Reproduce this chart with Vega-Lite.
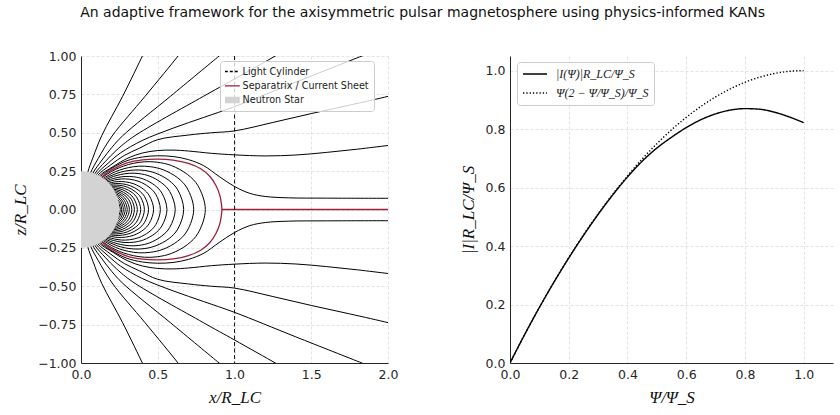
{
"$schema": "https://vega.github.io/schema/vega-lite/v6.json",
"background": "white",
"padding": {"left": 11, "right": 4, "top": 6, "bottom": 2},
"title": {"text": "An adaptive framework for the axisymmetric pulsar magnetosphere using physics-informed KANs", "font": "DejaVu Sans", "fontSize": 14, "fontWeight": "normal", "color": "#111111", "anchor": "middle", "offset": 30},
"config": {
  "view": {"stroke": null},
  "axis": {"labelFont": "DejaVu Sans", "labelFontSize": 12.5, "labelColor": "#262626", "titleFont": "Liberation Serif", "titleFontStyle": "italic", "titleFontWeight": "normal", "titleFontSize": 17, "titleColor": "#111111", "domainColor": "#262626", "domainWidth": 1, "tickColor": "#262626", "tickWidth": 0.8, "tickSize": 0, "gridColor": "#dcdcdc", "gridDash": [3, 2], "gridWidth": 0.8, "labelOverlap": false, "labelFlush": false, "labelPadding": 5}
},
"datasets": {
"fl": [
{"l":"c1","x":0.135,"z":0.205},{"l":"c1","x":0.175,"z":0.233},{"l":"c1","x":0.222,"z":0.26},{"l":"c1","x":0.278,"z":0.283},{"l":"c1","x":0.342,"z":0.301},{"l":"c1","x":0.415,"z":0.311},{"l":"c1","x":0.497,"z":0.308},{"l":"c1","x":0.59,"z":0.286},{"l":"c1","x":0.694,"z":0.228},{"l":"c1","x":0.762,"z":0.155},{"l":"c1","x":0.81,"z":0},{"l":"c1","x":0.762,"z":-0.155},{"l":"c1","x":0.694,"z":-0.228},{"l":"c1","x":0.59,"z":-0.286},{"l":"c1","x":0.497,"z":-0.308},{"l":"c1","x":0.415,"z":-0.311},{"l":"c1","x":0.342,"z":-0.301},{"l":"c1","x":0.278,"z":-0.283},{"l":"c1","x":0.222,"z":-0.26},{"l":"c1","x":0.175,"z":-0.233},{"l":"c1","x":0.135,"z":-0.205},
{"l":"c2","x":0.122,"z":0.185},{"l":"c2","x":0.159,"z":0.211},{"l":"c2","x":0.202,"z":0.236},{"l":"c2","x":0.252,"z":0.257},{"l":"c2","x":0.31,"z":0.273},{"l":"c2","x":0.376,"z":0.282},{"l":"c2","x":0.451,"z":0.279},{"l":"c2","x":0.535,"z":0.259},{"l":"c2","x":0.629,"z":0.207},{"l":"c2","x":0.691,"z":0.14},{"l":"c2","x":0.734,"z":0},{"l":"c2","x":0.691,"z":-0.14},{"l":"c2","x":0.629,"z":-0.207},{"l":"c2","x":0.535,"z":-0.259},{"l":"c2","x":0.451,"z":-0.279},{"l":"c2","x":0.376,"z":-0.282},{"l":"c2","x":0.31,"z":-0.273},{"l":"c2","x":0.252,"z":-0.257},{"l":"c2","x":0.202,"z":-0.236},{"l":"c2","x":0.159,"z":-0.211},{"l":"c2","x":0.122,"z":-0.185},
{"l":"c3","x":0.145,"z":0.193},{"l":"c3","x":0.184,"z":0.215},{"l":"c3","x":0.229,"z":0.234},{"l":"c3","x":0.282,"z":0.249},{"l":"c3","x":0.343,"z":0.257},{"l":"c3","x":0.411,"z":0.255},{"l":"c3","x":0.488,"z":0.236},{"l":"c3","x":0.574,"z":0.189},{"l":"c3","x":0.63,"z":0.128},{"l":"c3","x":0.669,"z":0},{"l":"c3","x":0.63,"z":-0.128},{"l":"c3","x":0.574,"z":-0.189},{"l":"c3","x":0.488,"z":-0.236},{"l":"c3","x":0.411,"z":-0.255},{"l":"c3","x":0.343,"z":-0.257},{"l":"c3","x":0.282,"z":-0.249},{"l":"c3","x":0.229,"z":-0.234},{"l":"c3","x":0.184,"z":-0.215},{"l":"c3","x":0.145,"z":-0.193},
{"l":"c4","x":0.133,"z":0.177},{"l":"c4","x":0.169,"z":0.197},{"l":"c4","x":0.211,"z":0.215},{"l":"c4","x":0.259,"z":0.228},{"l":"c4","x":0.314,"z":0.236},{"l":"c4","x":0.377,"z":0.234},{"l":"c4","x":0.448,"z":0.217},{"l":"c4","x":0.526,"z":0.173},{"l":"c4","x":0.578,"z":0.117},{"l":"c4","x":0.614,"z":0},{"l":"c4","x":0.578,"z":-0.117},{"l":"c4","x":0.526,"z":-0.173},{"l":"c4","x":0.448,"z":-0.217},{"l":"c4","x":0.377,"z":-0.234},{"l":"c4","x":0.314,"z":-0.236},{"l":"c4","x":0.259,"z":-0.228},{"l":"c4","x":0.211,"z":-0.215},{"l":"c4","x":0.169,"z":-0.197},{"l":"c4","x":0.133,"z":-0.177},
{"l":"c5","x":0.154,"z":0.18},{"l":"c5","x":0.192,"z":0.196},{"l":"c5","x":0.236,"z":0.208},{"l":"c5","x":0.287,"z":0.215},{"l":"c5","x":0.344,"z":0.213},{"l":"c5","x":0.408,"z":0.198},{"l":"c5","x":0.48,"z":0.158},{"l":"c5","x":0.527,"z":0.107},{"l":"c5","x":0.56,"z":0},{"l":"c5","x":0.527,"z":-0.107},{"l":"c5","x":0.48,"z":-0.158},{"l":"c5","x":0.408,"z":-0.198},{"l":"c5","x":0.344,"z":-0.213},{"l":"c5","x":0.287,"z":-0.215},{"l":"c5","x":0.236,"z":-0.208},{"l":"c5","x":0.192,"z":-0.196},{"l":"c5","x":0.154,"z":-0.18},
{"l":"c6","x":0.142,"z":0.166},{"l":"c6","x":0.177,"z":0.181},{"l":"c6","x":0.218,"z":0.192},{"l":"c6","x":0.265,"z":0.199},{"l":"c6","x":0.317,"z":0.197},{"l":"c6","x":0.377,"z":0.183},{"l":"c6","x":0.443,"z":0.146},{"l":"c6","x":0.487,"z":0.099},{"l":"c6","x":0.517,"z":0},{"l":"c6","x":0.487,"z":-0.099},{"l":"c6","x":0.443,"z":-0.146},{"l":"c6","x":0.377,"z":-0.183},{"l":"c6","x":0.317,"z":-0.197},{"l":"c6","x":0.265,"z":-0.199},{"l":"c6","x":0.218,"z":-0.192},{"l":"c6","x":0.177,"z":-0.181},{"l":"c6","x":0.142,"z":-0.166},
{"l":"c7","x":0.162,"z":0.166},{"l":"c7","x":0.2,"z":0.176},{"l":"c7","x":0.242,"z":0.182},{"l":"c7","x":0.29,"z":0.18},{"l":"c7","x":0.345,"z":0.167},{"l":"c7","x":0.406,"z":0.133},{"l":"c7","x":0.445,"z":0.09},{"l":"c7","x":0.473,"z":0},{"l":"c7","x":0.445,"z":-0.09},{"l":"c7","x":0.406,"z":-0.133},{"l":"c7","x":0.345,"z":-0.167},{"l":"c7","x":0.29,"z":-0.18},{"l":"c7","x":0.242,"z":-0.182},{"l":"c7","x":0.2,"z":-0.176},{"l":"c7","x":0.162,"z":-0.166},
{"l":"c8","x":0.186,"z":0.164},{"l":"c8","x":0.225,"z":0.169},{"l":"c8","x":0.27,"z":0.167},{"l":"c8","x":0.321,"z":0.155},{"l":"c8","x":0.377,"z":0.124},{"l":"c8","x":0.414,"z":0.084},{"l":"c8","x":0.44,"z":0},{"l":"c8","x":0.414,"z":-0.084},{"l":"c8","x":0.377,"z":-0.124},{"l":"c8","x":0.321,"z":-0.155},{"l":"c8","x":0.27,"z":-0.167},{"l":"c8","x":0.225,"z":-0.169},{"l":"c8","x":0.186,"z":-0.164},
{"l":"c9","x":0.174,"z":0.154},{"l":"c9","x":0.211,"z":0.159},{"l":"c9","x":0.254,"z":0.157},{"l":"c9","x":0.301,"z":0.146},{"l":"c9","x":0.354,"z":0.116},{"l":"c9","x":0.389,"z":0.079},{"l":"c9","x":0.413,"z":0},{"l":"c9","x":0.389,"z":-0.079},{"l":"c9","x":0.354,"z":-0.116},{"l":"c9","x":0.301,"z":-0.146},{"l":"c9","x":0.254,"z":-0.157},{"l":"c9","x":0.211,"z":-0.159},{"l":"c9","x":0.174,"z":-0.154},
{"l":"c10","x":0.199,"z":0.149},{"l":"c10","x":0.239,"z":0.148},{"l":"c10","x":0.284,"z":0.137},{"l":"c10","x":0.334,"z":0.11},{"l":"c10","x":0.366,"z":0.074},{"l":"c10","x":0.389,"z":0},{"l":"c10","x":0.366,"z":-0.074},{"l":"c10","x":0.334,"z":-0.11},{"l":"c10","x":0.284,"z":-0.137},{"l":"c10","x":0.239,"z":-0.148},{"l":"c10","x":0.199,"z":-0.149},
{"l":"c11","x":0.188,"z":0.141},{"l":"c11","x":0.225,"z":0.14},{"l":"c11","x":0.268,"z":0.13},{"l":"c11","x":0.315,"z":0.103},{"l":"c11","x":0.345,"z":0.07},{"l":"c11","x":0.367,"z":0},{"l":"c11","x":0.345,"z":-0.07},{"l":"c11","x":0.315,"z":-0.103},{"l":"c11","x":0.268,"z":-0.13},{"l":"c11","x":0.225,"z":-0.14},{"l":"c11","x":0.188,"z":-0.141},
{"l":"c12","x":0.178,"z":0.134},{"l":"c12","x":0.214,"z":0.132},{"l":"c12","x":0.254,"z":0.123},{"l":"c12","x":0.298,"z":0.098},{"l":"c12","x":0.328,"z":0.067},{"l":"c12","x":0.348,"z":0},{"l":"c12","x":0.328,"z":-0.067},{"l":"c12","x":0.298,"z":-0.098},{"l":"c12","x":0.254,"z":-0.123},{"l":"c12","x":0.214,"z":-0.132},{"l":"c12","x":0.178,"z":-0.134},
{"l":"c13","x":0.203,"z":0.126},{"l":"c13","x":0.241,"z":0.117},{"l":"c13","x":0.284,"z":0.093},{"l":"c13","x":0.312,"z":0.063},{"l":"c13","x":0.331,"z":0},{"l":"c13","x":0.312,"z":-0.063},{"l":"c13","x":0.284,"z":-0.093},{"l":"c13","x":0.241,"z":-0.117},{"l":"c13","x":0.203,"z":-0.126},
{"l":"c14","x":0.193,"z":0.12},{"l":"c14","x":0.23,"z":0.111},{"l":"c14","x":0.27,"z":0.089},{"l":"c14","x":0.296,"z":0.06},{"l":"c14","x":0.315,"z":0},{"l":"c14","x":0.296,"z":-0.06},{"l":"c14","x":0.27,"z":-0.089},{"l":"c14","x":0.23,"z":-0.111},{"l":"c14","x":0.193,"z":-0.12},
{"l":"c15","x":0.219,"z":0.106},{"l":"c15","x":0.258,"z":0.085},{"l":"c15","x":0.283,"z":0.058},{"l":"c15","x":0.301,"z":0},{"l":"c15","x":0.283,"z":-0.058},{"l":"c15","x":0.258,"z":-0.085},{"l":"c15","x":0.219,"z":-0.106},
{"l":"c16","x":0.21,"z":0.102},{"l":"c16","x":0.247,"z":0.081},{"l":"c16","x":0.271,"z":0.055},{"l":"c16","x":0.288,"z":0},{"l":"c16","x":0.271,"z":-0.055},{"l":"c16","x":0.247,"z":-0.081},{"l":"c16","x":0.21,"z":-0.102},
{"l":"c17","x":0.237,"z":0.078},{"l":"c17","x":0.26,"z":0.053},{"l":"c17","x":0.276,"z":0},{"l":"c17","x":0.26,"z":-0.053},{"l":"c17","x":0.237,"z":-0.078},
{"l":"c18","x":0.238,"z":0.065},{"l":"c18","x":0.257,"z":0.037},{"l":"c18","x":0.265,"z":0},{"l":"c18","x":0.257,"z":-0.037},{"l":"c18","x":0.238,"z":-0.065},
{"l":"c19","x":0.241,"z":0.049},{"l":"c19","x":0.248,"z":0.035},{"l":"c19","x":0.256,"z":0},{"l":"c19","x":0.248,"z":-0.035},{"l":"c19","x":0.241,"z":-0.049},
{"l":"u1","x":0.036,"z":0.197},{"l":"u1","x":0.045,"z":0.246},{"l":"u1","x":0.079,"z":0.341},{"l":"u1","x":0.135,"z":0.481},{"l":"u1","x":0.271,"z":0.737},{"l":"u1","x":0.4,"z":1.0},{"l":"u1","x":0.41,"z":1.02},
{"l":"u2","x":0.051,"z":0.194},{"l":"u2","x":0.064,"z":0.242},{"l":"u2","x":0.112,"z":0.332},{"l":"u2","x":0.203,"z":0.479},{"l":"u2","x":0.417,"z":0.737},{"l":"u2","x":0.632,"z":1.0},{"l":"u2","x":0.65,"z":1.025},
{"l":"u3","x":0.062,"z":0.19},{"l":"u3","x":0.078,"z":0.2375},{"l":"u3","x":0.137,"z":0.322},{"l":"u3","x":0.2,"z":0.403},{"l":"u3","x":0.27,"z":0.479},{"l":"u3","x":0.582,"z":0.737},{"l":"u3","x":0.9,"z":1.0},{"l":"u3","x":0.925,"z":1.02},
{"l":"u4","x":0.072,"z":0.186},{"l":"u4","x":0.09,"z":0.233},{"l":"u4","x":0.158,"z":0.312},{"l":"u4","x":0.231,"z":0.386},{"l":"u4","x":0.338,"z":0.472},{"l":"u4","x":0.797,"z":0.737},{"l":"u4","x":1.0,"z":0.85},{"l":"u4","x":1.266,"z":1.0},{"l":"u4","x":1.3,"z":1.02},
{"l":"u5","x":0.081,"z":0.183},{"l":"u5","x":0.101,"z":0.229},{"l":"u5","x":0.177,"z":0.302},{"l":"u5","x":0.258,"z":0.369},{"l":"u5","x":0.398,"z":0.449},{"l":"u5","x":0.6,"z":0.53},{"l":"u5","x":0.8,"z":0.6},{"l":"u5","x":1.0,"z":0.67},{"l":"u5","x":1.4,"z":0.83},{"l":"u5","x":1.83,"z":1.0},{"l":"u5","x":1.88,"z":1.02},
{"l":"u6","x":0.089,"z":0.179},{"l":"u6","x":0.111,"z":0.224},{"l":"u6","x":0.194,"z":0.291},{"l":"u6","x":0.282,"z":0.352},{"l":"u6","x":0.382,"z":0.4},{"l":"u6","x":0.5,"z":0.455},{"l":"u6","x":0.7,"z":0.485},{"l":"u6","x":0.85,"z":0.5},{"l":"u6","x":1.0,"z":0.512},{"l":"u6","x":1.25,"z":0.567},{"l":"u6","x":1.5,"z":0.625},{"l":"u6","x":1.75,"z":0.68},{"l":"u6","x":2.0,"z":0.737},{"l":"u6","x":2.05,"z":0.75},
{"l":"u7","x":0.096,"z":0.175},{"l":"u7","x":0.12,"z":0.219},{"l":"u7","x":0.21,"z":0.28},{"l":"u7","x":0.306,"z":0.335},{"l":"u7","x":0.4,"z":0.368},{"l":"u7","x":0.5,"z":0.384},{"l":"u7","x":0.6,"z":0.387},{"l":"u7","x":0.7,"z":0.381},{"l":"u7","x":0.85,"z":0.366},{"l":"u7","x":1.0,"z":0.356},{"l":"u7","x":1.2,"z":0.349},{"l":"u7","x":1.4,"z":0.355},{"l":"u7","x":1.6,"z":0.372},{"l":"u7","x":1.8,"z":0.393},{"l":"u7","x":2.0,"z":0.417},{"l":"u7","x":2.05,"z":0.423},
{"l":"u8","x":0.102,"z":0.172},{"l":"u8","x":0.128,"z":0.215},{"l":"u8","x":0.2,"z":0.268},{"l":"u8","x":0.3,"z":0.318},{"l":"u8","x":0.4,"z":0.342},{"l":"u8","x":0.5,"z":0.35},{"l":"u8","x":0.6,"z":0.345},{"l":"u8","x":0.7,"z":0.325},{"l":"u8","x":0.8,"z":0.285},{"l":"u8","x":0.9,"z":0.215},{"l":"u8","x":1.0,"z":0.15},{"l":"u8","x":1.1,"z":0.105},{"l":"u8","x":1.2,"z":0.085},{"l":"u8","x":1.35,"z":0.076},{"l":"u8","x":1.6,"z":0.074},{"l":"u8","x":2.0,"z":0.073},{"l":"u8","x":2.05,"z":0.073},
{"l":"d1","x":0.036,"z":-0.197},{"l":"d1","x":0.045,"z":-0.246},{"l":"d1","x":0.079,"z":-0.341},{"l":"d1","x":0.135,"z":-0.481},{"l":"d1","x":0.271,"z":-0.737},{"l":"d1","x":0.4,"z":-1.0},{"l":"d1","x":0.41,"z":-1.02},
{"l":"d2","x":0.051,"z":-0.194},{"l":"d2","x":0.064,"z":-0.242},{"l":"d2","x":0.112,"z":-0.332},{"l":"d2","x":0.203,"z":-0.479},{"l":"d2","x":0.417,"z":-0.737},{"l":"d2","x":0.632,"z":-1.0},{"l":"d2","x":0.65,"z":-1.025},
{"l":"d3","x":0.062,"z":-0.19},{"l":"d3","x":0.078,"z":-0.2375},{"l":"d3","x":0.137,"z":-0.322},{"l":"d3","x":0.2,"z":-0.403},{"l":"d3","x":0.27,"z":-0.479},{"l":"d3","x":0.582,"z":-0.737},{"l":"d3","x":0.9,"z":-1.0},{"l":"d3","x":0.925,"z":-1.02},
{"l":"d4","x":0.072,"z":-0.186},{"l":"d4","x":0.09,"z":-0.233},{"l":"d4","x":0.158,"z":-0.312},{"l":"d4","x":0.231,"z":-0.386},{"l":"d4","x":0.338,"z":-0.472},{"l":"d4","x":0.797,"z":-0.737},{"l":"d4","x":1.0,"z":-0.85},{"l":"d4","x":1.266,"z":-1.0},{"l":"d4","x":1.3,"z":-1.02},
{"l":"d5","x":0.081,"z":-0.183},{"l":"d5","x":0.101,"z":-0.229},{"l":"d5","x":0.177,"z":-0.302},{"l":"d5","x":0.258,"z":-0.369},{"l":"d5","x":0.398,"z":-0.449},{"l":"d5","x":0.6,"z":-0.53},{"l":"d5","x":0.8,"z":-0.6},{"l":"d5","x":1.0,"z":-0.67},{"l":"d5","x":1.4,"z":-0.83},{"l":"d5","x":1.83,"z":-1.0},{"l":"d5","x":1.88,"z":-1.02},
{"l":"d6","x":0.089,"z":-0.179},{"l":"d6","x":0.111,"z":-0.224},{"l":"d6","x":0.194,"z":-0.291},{"l":"d6","x":0.282,"z":-0.352},{"l":"d6","x":0.382,"z":-0.4},{"l":"d6","x":0.5,"z":-0.455},{"l":"d6","x":0.7,"z":-0.485},{"l":"d6","x":0.85,"z":-0.5},{"l":"d6","x":1.0,"z":-0.512},{"l":"d6","x":1.25,"z":-0.567},{"l":"d6","x":1.5,"z":-0.625},{"l":"d6","x":1.75,"z":-0.68},{"l":"d6","x":2.0,"z":-0.737},{"l":"d6","x":2.05,"z":-0.75},
{"l":"d7","x":0.096,"z":-0.175},{"l":"d7","x":0.12,"z":-0.219},{"l":"d7","x":0.21,"z":-0.28},{"l":"d7","x":0.306,"z":-0.335},{"l":"d7","x":0.4,"z":-0.368},{"l":"d7","x":0.5,"z":-0.384},{"l":"d7","x":0.6,"z":-0.387},{"l":"d7","x":0.7,"z":-0.381},{"l":"d7","x":0.85,"z":-0.366},{"l":"d7","x":1.0,"z":-0.356},{"l":"d7","x":1.2,"z":-0.349},{"l":"d7","x":1.4,"z":-0.355},{"l":"d7","x":1.6,"z":-0.372},{"l":"d7","x":1.8,"z":-0.393},{"l":"d7","x":2.0,"z":-0.417},{"l":"d7","x":2.05,"z":-0.423},
{"l":"d8","x":0.102,"z":-0.172},{"l":"d8","x":0.128,"z":-0.215},{"l":"d8","x":0.2,"z":-0.268},{"l":"d8","x":0.3,"z":-0.318},{"l":"d8","x":0.4,"z":-0.342},{"l":"d8","x":0.5,"z":-0.35},{"l":"d8","x":0.6,"z":-0.345},{"l":"d8","x":0.7,"z":-0.325},{"l":"d8","x":0.8,"z":-0.285},{"l":"d8","x":0.9,"z":-0.215},{"l":"d8","x":1.0,"z":-0.15},{"l":"d8","x":1.1,"z":-0.105},{"l":"d8","x":1.2,"z":-0.085},{"l":"d8","x":1.35,"z":-0.076},{"l":"d8","x":1.6,"z":-0.074},{"l":"d8","x":2.0,"z":-0.073},{"l":"d8","x":2.05,"z":-0.073}
],
"sep": [
{"kind":"Separatrix / Current Sheet","p":"s","x":0.109,"z":0.168},{"kind":"Separatrix / Current Sheet","p":"s","x":0.136,"z":0.21},{"kind":"Separatrix / Current Sheet","p":"s","x":0.2,"z":0.258},{"kind":"Separatrix / Current Sheet","p":"s","x":0.3,"z":0.303},{"kind":"Separatrix / Current Sheet","p":"s","x":0.4,"z":0.323},{"kind":"Separatrix / Current Sheet","p":"s","x":0.5,"z":0.328},{"kind":"Separatrix / Current Sheet","p":"s","x":0.6,"z":0.322},{"kind":"Separatrix / Current Sheet","p":"s","x":0.7,"z":0.3},{"kind":"Separatrix / Current Sheet","p":"s","x":0.78,"z":0.265},{"kind":"Separatrix / Current Sheet","p":"s","x":0.84,"z":0.215},{"kind":"Separatrix / Current Sheet","p":"s","x":0.88,"z":0.155},{"kind":"Separatrix / Current Sheet","p":"s","x":0.905,"z":0.09},{"kind":"Separatrix / Current Sheet","p":"s","x":0.915,"z":0.035},{"kind":"Separatrix / Current Sheet","p":"s","x":0.918,"z":0},{"kind":"Separatrix / Current Sheet","p":"s","x":0.915,"z":-0.035},{"kind":"Separatrix / Current Sheet","p":"s","x":0.905,"z":-0.09},{"kind":"Separatrix / Current Sheet","p":"s","x":0.88,"z":-0.155},{"kind":"Separatrix / Current Sheet","p":"s","x":0.84,"z":-0.215},{"kind":"Separatrix / Current Sheet","p":"s","x":0.78,"z":-0.265},{"kind":"Separatrix / Current Sheet","p":"s","x":0.7,"z":-0.3},{"kind":"Separatrix / Current Sheet","p":"s","x":0.6,"z":-0.322},{"kind":"Separatrix / Current Sheet","p":"s","x":0.5,"z":-0.328},{"kind":"Separatrix / Current Sheet","p":"s","x":0.4,"z":-0.323},{"kind":"Separatrix / Current Sheet","p":"s","x":0.3,"z":-0.303},{"kind":"Separatrix / Current Sheet","p":"s","x":0.2,"z":-0.258},{"kind":"Separatrix / Current Sheet","p":"s","x":0.136,"z":-0.21},{"kind":"Separatrix / Current Sheet","p":"s","x":0.109,"z":-0.168},
{"kind":"Separatrix / Current Sheet","p":"cs","x":0.918,"z":0},{"kind":"Separatrix / Current Sheet","p":"cs","x":2.05,"z":0}
],
"lc": [{"kind":"Light Cylinder","x":1}],
"star": [
{"kind":"Neutron Star","z":0.25,"xs":0},{"kind":"Neutron Star","z":0.2462,"xs":0.0434},{"kind":"Neutron Star","z":0.2349,"xs":0.0855},{"kind":"Neutron Star","z":0.2165,"xs":0.125},{"kind":"Neutron Star","z":0.1915,"xs":0.1607},{"kind":"Neutron Star","z":0.1607,"xs":0.1915},{"kind":"Neutron Star","z":0.125,"xs":0.2165},{"kind":"Neutron Star","z":0.0855,"xs":0.2349},{"kind":"Neutron Star","z":0.0434,"xs":0.2462},{"kind":"Neutron Star","z":0,"xs":0.25},{"kind":"Neutron Star","z":-0.0434,"xs":0.2462},{"kind":"Neutron Star","z":-0.0855,"xs":0.2349},{"kind":"Neutron Star","z":-0.125,"xs":0.2165},{"kind":"Neutron Star","z":-0.1607,"xs":0.1915},{"kind":"Neutron Star","z":-0.1915,"xs":0.1607},{"kind":"Neutron Star","z":-0.2165,"xs":0.125},{"kind":"Neutron Star","z":-0.2349,"xs":0.0855},{"kind":"Neutron Star","z":-0.2462,"xs":0.0434},{"kind":"Neutron Star","z":-0.25,"xs":0}
],
"curves": [
{"s":"|I(Ψ)|R_LC/Ψ_S","psi":0,"v":0},{"s":"|I(Ψ)|R_LC/Ψ_S","psi":0.05,"v":0.0975},{"s":"|I(Ψ)|R_LC/Ψ_S","psi":0.1,"v":0.19},{"s":"|I(Ψ)|R_LC/Ψ_S","psi":0.15,"v":0.277},{"s":"|I(Ψ)|R_LC/Ψ_S","psi":0.2,"v":0.359},{"s":"|I(Ψ)|R_LC/Ψ_S","psi":0.25,"v":0.436},{"s":"|I(Ψ)|R_LC/Ψ_S","psi":0.3,"v":0.508},{"s":"|I(Ψ)|R_LC/Ψ_S","psi":0.35,"v":0.575},{"s":"|I(Ψ)|R_LC/Ψ_S","psi":0.4,"v":0.636},{"s":"|I(Ψ)|R_LC/Ψ_S","psi":0.45,"v":0.69},{"s":"|I(Ψ)|R_LC/Ψ_S","psi":0.5,"v":0.735},{"s":"|I(Ψ)|R_LC/Ψ_S","psi":0.55,"v":0.772},{"s":"|I(Ψ)|R_LC/Ψ_S","psi":0.6,"v":0.805},{"s":"|I(Ψ)|R_LC/Ψ_S","psi":0.65,"v":0.832},{"s":"|I(Ψ)|R_LC/Ψ_S","psi":0.7,"v":0.852},{"s":"|I(Ψ)|R_LC/Ψ_S","psi":0.75,"v":0.865},{"s":"|I(Ψ)|R_LC/Ψ_S","psi":0.8,"v":0.87},{"s":"|I(Ψ)|R_LC/Ψ_S","psi":0.85,"v":0.868},{"s":"|I(Ψ)|R_LC/Ψ_S","psi":0.9,"v":0.858},{"s":"|I(Ψ)|R_LC/Ψ_S","psi":0.95,"v":0.842},{"s":"|I(Ψ)|R_LC/Ψ_S","psi":1.0,"v":0.822},
{"s":"Ψ(2 − Ψ/Ψ_S)/Ψ_S","psi":0,"v":0},{"s":"Ψ(2 − Ψ/Ψ_S)/Ψ_S","psi":0.05,"v":0.0975},{"s":"Ψ(2 − Ψ/Ψ_S)/Ψ_S","psi":0.1,"v":0.19},{"s":"Ψ(2 − Ψ/Ψ_S)/Ψ_S","psi":0.15,"v":0.2775},{"s":"Ψ(2 − Ψ/Ψ_S)/Ψ_S","psi":0.2,"v":0.36},{"s":"Ψ(2 − Ψ/Ψ_S)/Ψ_S","psi":0.25,"v":0.4375},{"s":"Ψ(2 − Ψ/Ψ_S)/Ψ_S","psi":0.3,"v":0.51},{"s":"Ψ(2 − Ψ/Ψ_S)/Ψ_S","psi":0.35,"v":0.5775},{"s":"Ψ(2 − Ψ/Ψ_S)/Ψ_S","psi":0.4,"v":0.64},{"s":"Ψ(2 − Ψ/Ψ_S)/Ψ_S","psi":0.45,"v":0.6975},{"s":"Ψ(2 − Ψ/Ψ_S)/Ψ_S","psi":0.5,"v":0.75},{"s":"Ψ(2 − Ψ/Ψ_S)/Ψ_S","psi":0.55,"v":0.7975},{"s":"Ψ(2 − Ψ/Ψ_S)/Ψ_S","psi":0.6,"v":0.84},{"s":"Ψ(2 − Ψ/Ψ_S)/Ψ_S","psi":0.65,"v":0.8775},{"s":"Ψ(2 − Ψ/Ψ_S)/Ψ_S","psi":0.7,"v":0.91},{"s":"Ψ(2 − Ψ/Ψ_S)/Ψ_S","psi":0.75,"v":0.9375},{"s":"Ψ(2 − Ψ/Ψ_S)/Ψ_S","psi":0.8,"v":0.96},{"s":"Ψ(2 − Ψ/Ψ_S)/Ψ_S","psi":0.85,"v":0.9775},{"s":"Ψ(2 − Ψ/Ψ_S)/Ψ_S","psi":0.9,"v":0.99},{"s":"Ψ(2 − Ψ/Ψ_S)/Ψ_S","psi":0.95,"v":0.9975},{"s":"Ψ(2 − Ψ/Ψ_S)/Ψ_S","psi":1.0,"v":1.0}
]
},
"spacing": 61,
"hconcat": [
{
 "width": 307, "height": 307,
 "layer": [
  {
   "data": {"name": "fl"},
   "mark": {"type": "line", "color": "black", "strokeWidth": 1, "clip": true, "interpolate": "catmull-rom"},
   "encoding": {
    "x": {"field": "x", "type": "quantitative", "scale": {"domain": [0, 2], "nice": false, "zero": false},
      "axis": {"title": "x/R_LC", "values": [0,0.1,0.2,0.3,0.4,0.5,0.6,0.7,0.8,0.9,1,1.1,1.2,1.3,1.4,1.5,1.6,1.7,1.8,1.9,2], "format": ".1f", "grid": true, "titlePadding": 9, "labelPadding": 5, "labelOverlap": false,
        "labelExpr": "abs(datum.value*2-round(datum.value*2))<0.001 ? datum.label : ''",
        "gridOpacity": {"condition": {"test": "abs(datum.value*2-round(datum.value*2))<0.001", "value": 1}, "value": 0},
        "encode": {"ticks": {"update": {"y2": {"signal": "abs(datum.value*2-round(datum.value*2))<0.001 ? -4.5 : -2.5"}}}}}},
    "y": {"field": "z", "type": "quantitative", "scale": {"domain": [-1, 1], "nice": false, "zero": false},
      "axis": {"title": "z/R_LC", "values": [-1,-0.95,-0.9,-0.85,-0.8,-0.75,-0.7,-0.65,-0.6,-0.55,-0.5,-0.45,-0.4,-0.35,-0.3,-0.25,-0.2,-0.15,-0.1,-0.05,0,0.05,0.1,0.15,0.2,0.25,0.3,0.35,0.4,0.45,0.5,0.55,0.6,0.65,0.7,0.75,0.8,0.85,0.9,0.95,1], "format": ".2f", "grid": true, "titlePadding": 8, "labelPadding": 5, "labelOverlap": false,
        "labelExpr": "abs(datum.value*4-round(datum.value*4))<0.001 ? datum.label : ''",
        "gridOpacity": {"condition": {"test": "abs(datum.value*4-round(datum.value*4))<0.001", "value": 1}, "value": 0},
        "encode": {"ticks": {"update": {"x2": {"signal": "abs(datum.value*4-round(datum.value*4))<0.001 ? 4.5 : 2.5"}}}}}},
    "detail": {"field": "l"},
    "order": {"value": null}
   }
  },
  {
   "data": {"name": "sep"},
   "mark": {"type": "line", "strokeWidth": 1.3, "clip": true, "interpolate": "catmull-rom"},
   "encoding": {
    "x": {"field": "x", "type": "quantitative",
      "axis": {"title": "x/R_LC", "values": [0,0.1,0.2,0.3,0.4,0.5,0.6,0.7,0.8,0.9,1,1.1,1.2,1.3,1.4,1.5,1.6,1.7,1.8,1.9,2], "format": ".1f", "grid": true, "titlePadding": 9, "labelPadding": 5, "labelOverlap": false,
        "labelExpr": "abs(datum.value*2-round(datum.value*2))<0.001 ? datum.label : ''",
        "gridOpacity": {"condition": {"test": "abs(datum.value*2-round(datum.value*2))<0.001", "value": 1}, "value": 0},
        "encode": {"ticks": {"update": {"y2": {"signal": "abs(datum.value*2-round(datum.value*2))<0.001 ? -4.5 : -2.5"}}}}}},
    "y": {"field": "z", "type": "quantitative",
      "axis": {"title": "z/R_LC", "values": [-1,-0.95,-0.9,-0.85,-0.8,-0.75,-0.7,-0.65,-0.6,-0.55,-0.5,-0.45,-0.4,-0.35,-0.3,-0.25,-0.2,-0.15,-0.1,-0.05,0,0.05,0.1,0.15,0.2,0.25,0.3,0.35,0.4,0.45,0.5,0.55,0.6,0.65,0.7,0.75,0.8,0.85,0.9,0.95,1], "format": ".2f", "grid": true, "titlePadding": 8, "labelPadding": 5, "labelOverlap": false,
        "labelExpr": "abs(datum.value*4-round(datum.value*4))<0.001 ? datum.label : ''",
        "gridOpacity": {"condition": {"test": "abs(datum.value*4-round(datum.value*4))<0.001", "value": 1}, "value": 0},
        "encode": {"ticks": {"update": {"x2": {"signal": "abs(datum.value*4-round(datum.value*4))<0.001 ? 4.5 : 2.5"}}}}}},
    "detail": {"field": "p"},
    "order": {"value": null},
    "color": {"field": "kind", "type": "nominal",
      "scale": {"domain": ["Light Cylinder", "Separatrix / Current Sheet", "Neutron Star"], "range": ["#000000", "#9e1f3c", "#d3d3d3"]},
      "legend": {"title": null, "orient": "none", "legendX": 139, "legendY": 5, "symbolType": "stroke", "symbolSize": 400, "symbolStrokeWidth": 1.3, "labelFont": "DejaVu Sans", "labelFontSize": 9.6, "labelColor": "#222222", "fillColor": "rgba(255,255,255,0.8)", "strokeColor": "#cccccc", "cornerRadius": 3, "padding": 5, "clipHeight": 11, "rowPadding": 3.3, "labelOffset": 8,
        "encode": {"symbols": {"update": {
          "stroke": {"signal": "datum.value == 'Light Cylinder' ? '#000000' : datum.value == 'Neutron Star' ? '#d3d3d3' : '#9e1f3c'"},
          "strokeDash": {"signal": "datum.value == 'Light Cylinder' ? [3, 2] : [1, 0]"},
          "strokeWidth": {"signal": "datum.value == 'Neutron Star' ? 6.5 : 1.3"},
          "fill": {"value": "transparent"}}}}}
    }
   }
  },
  {
   "data": {"name": "lc"},
   "mark": {"type": "rule", "strokeDash": [4, 2.5], "strokeWidth": 0.9},
   "encoding": {
    "x": {"field": "x", "type": "quantitative",
      "axis": {"title": "x/R_LC", "values": [0,0.1,0.2,0.3,0.4,0.5,0.6,0.7,0.8,0.9,1,1.1,1.2,1.3,1.4,1.5,1.6,1.7,1.8,1.9,2], "format": ".1f", "grid": true, "titlePadding": 9, "labelPadding": 5, "labelOverlap": false,
        "labelExpr": "abs(datum.value*2-round(datum.value*2))<0.001 ? datum.label : ''",
        "gridOpacity": {"condition": {"test": "abs(datum.value*2-round(datum.value*2))<0.001", "value": 1}, "value": 0},
        "encode": {"ticks": {"update": {"y2": {"signal": "abs(datum.value*2-round(datum.value*2))<0.001 ? -4.5 : -2.5"}}}}}},
    "color": {"field": "kind", "type": "nominal", "legend": null}
   }
  },
  {
   "data": {"name": "star"},
   "mark": {"type": "area", "orient": "horizontal", "opacity": 1},
   "encoding": {
    "y": {"field": "z", "type": "quantitative",
      "axis": {"title": "z/R_LC", "values": [-1,-0.95,-0.9,-0.85,-0.8,-0.75,-0.7,-0.65,-0.6,-0.55,-0.5,-0.45,-0.4,-0.35,-0.3,-0.25,-0.2,-0.15,-0.1,-0.05,0,0.05,0.1,0.15,0.2,0.25,0.3,0.35,0.4,0.45,0.5,0.55,0.6,0.65,0.7,0.75,0.8,0.85,0.9,0.95,1], "format": ".2f", "grid": true, "titlePadding": 8, "labelPadding": 5, "labelOverlap": false,
        "labelExpr": "abs(datum.value*4-round(datum.value*4))<0.001 ? datum.label : ''",
        "gridOpacity": {"condition": {"test": "abs(datum.value*4-round(datum.value*4))<0.001", "value": 1}, "value": 0},
        "encode": {"ticks": {"update": {"x2": {"signal": "abs(datum.value*4-round(datum.value*4))<0.001 ? 4.5 : 2.5"}}}}}},
    "x": {"field": "xs", "type": "quantitative",
      "axis": {"title": "x/R_LC", "values": [0,0.1,0.2,0.3,0.4,0.5,0.6,0.7,0.8,0.9,1,1.1,1.2,1.3,1.4,1.5,1.6,1.7,1.8,1.9,2], "format": ".1f", "grid": true, "titlePadding": 9, "labelPadding": 5, "labelOverlap": false,
        "labelExpr": "abs(datum.value*2-round(datum.value*2))<0.001 ? datum.label : ''",
        "gridOpacity": {"condition": {"test": "abs(datum.value*2-round(datum.value*2))<0.001", "value": 1}, "value": 0},
        "encode": {"ticks": {"update": {"y2": {"signal": "abs(datum.value*2-round(datum.value*2))<0.001 ? -4.5 : -2.5"}}}}}},
    "x2": {"datum": 0},
    "color": {"field": "kind", "type": "nominal", "legend": null}
   }
  }
 ]
},
{
 "width": 323, "height": 307,
 "data": {"name": "curves"},
 "mark": {"type": "line", "color": "black", "strokeWidth": 1.4, "clip": true, "interpolate": "monotone"},
 "encoding": {
  "x": {"field": "psi", "type": "quantitative", "scale": {"domain": [0, 1.1], "nice": false, "zero": false},
    "axis": {"title": "Ψ/Ψ_S", "values": [0,0.05,0.1,0.15,0.2,0.25,0.3,0.35,0.4,0.45,0.5,0.55,0.6,0.65,0.7,0.75,0.8,0.85,0.9,0.95,1,1.05,1.1], "format": ".1f", "grid": true, "titlePadding": 9, "labelPadding": 5, "labelOverlap": false,
      "labelExpr": "abs(datum.value*5-round(datum.value*5))<0.001 ? datum.label : ''",
      "gridOpacity": {"condition": {"test": "abs(datum.value*5-round(datum.value*5))<0.001", "value": 1}, "value": 0},
      "encode": {"ticks": {"update": {"y2": {"signal": "abs(datum.value*5-round(datum.value*5))<0.001 ? -4.5 : -2.5"}}}}}},
  "y": {"field": "v", "type": "quantitative", "scale": {"domain": [0, 1.05], "nice": false, "zero": false},
    "axis": {"title": "|I|R_LC/Ψ_S", "values": [0,0.05,0.1,0.15,0.2,0.25,0.3,0.35,0.4,0.45,0.5,0.55,0.6,0.65,0.7,0.75,0.8,0.85,0.9,0.95,1,1.05], "format": ".1f", "grid": true, "titlePadding": 8, "labelPadding": 5, "labelOverlap": false,
      "labelExpr": "abs(datum.value*5-round(datum.value*5))<0.001 ? datum.label : ''",
      "gridOpacity": {"condition": {"test": "abs(datum.value*5-round(datum.value*5))<0.001", "value": 1}, "value": 0},
      "encode": {"ticks": {"update": {"x2": {"signal": "abs(datum.value*5-round(datum.value*5))<0.001 ? 4.5 : 2.5"}}}}}},
  "strokeDash": {"field": "s", "type": "nominal",
    "scale": {"domain": ["|I(Ψ)|R_LC/Ψ_S", "Ψ(2 − Ψ/Ψ_S)/Ψ_S"], "range": [[1, 0], [1.3, 2]]},
    "legend": {"title": null, "orient": "none", "legendX": 436, "legendY": 6, "symbolType": "stroke", "symbolSize": 576, "symbolStrokeColor": "black", "symbolStrokeWidth": 1.4, "labelFont": "Liberation Serif", "labelFontStyle": "italic", "labelFontSize": 12, "labelColor": "#222222", "fillColor": "rgba(255,255,255,0.8)", "strokeColor": "#cccccc", "cornerRadius": 3, "padding": 5, "clipHeight": 14, "rowPadding": 5, "labelOffset": 8}
  }
 }
}
]
}
